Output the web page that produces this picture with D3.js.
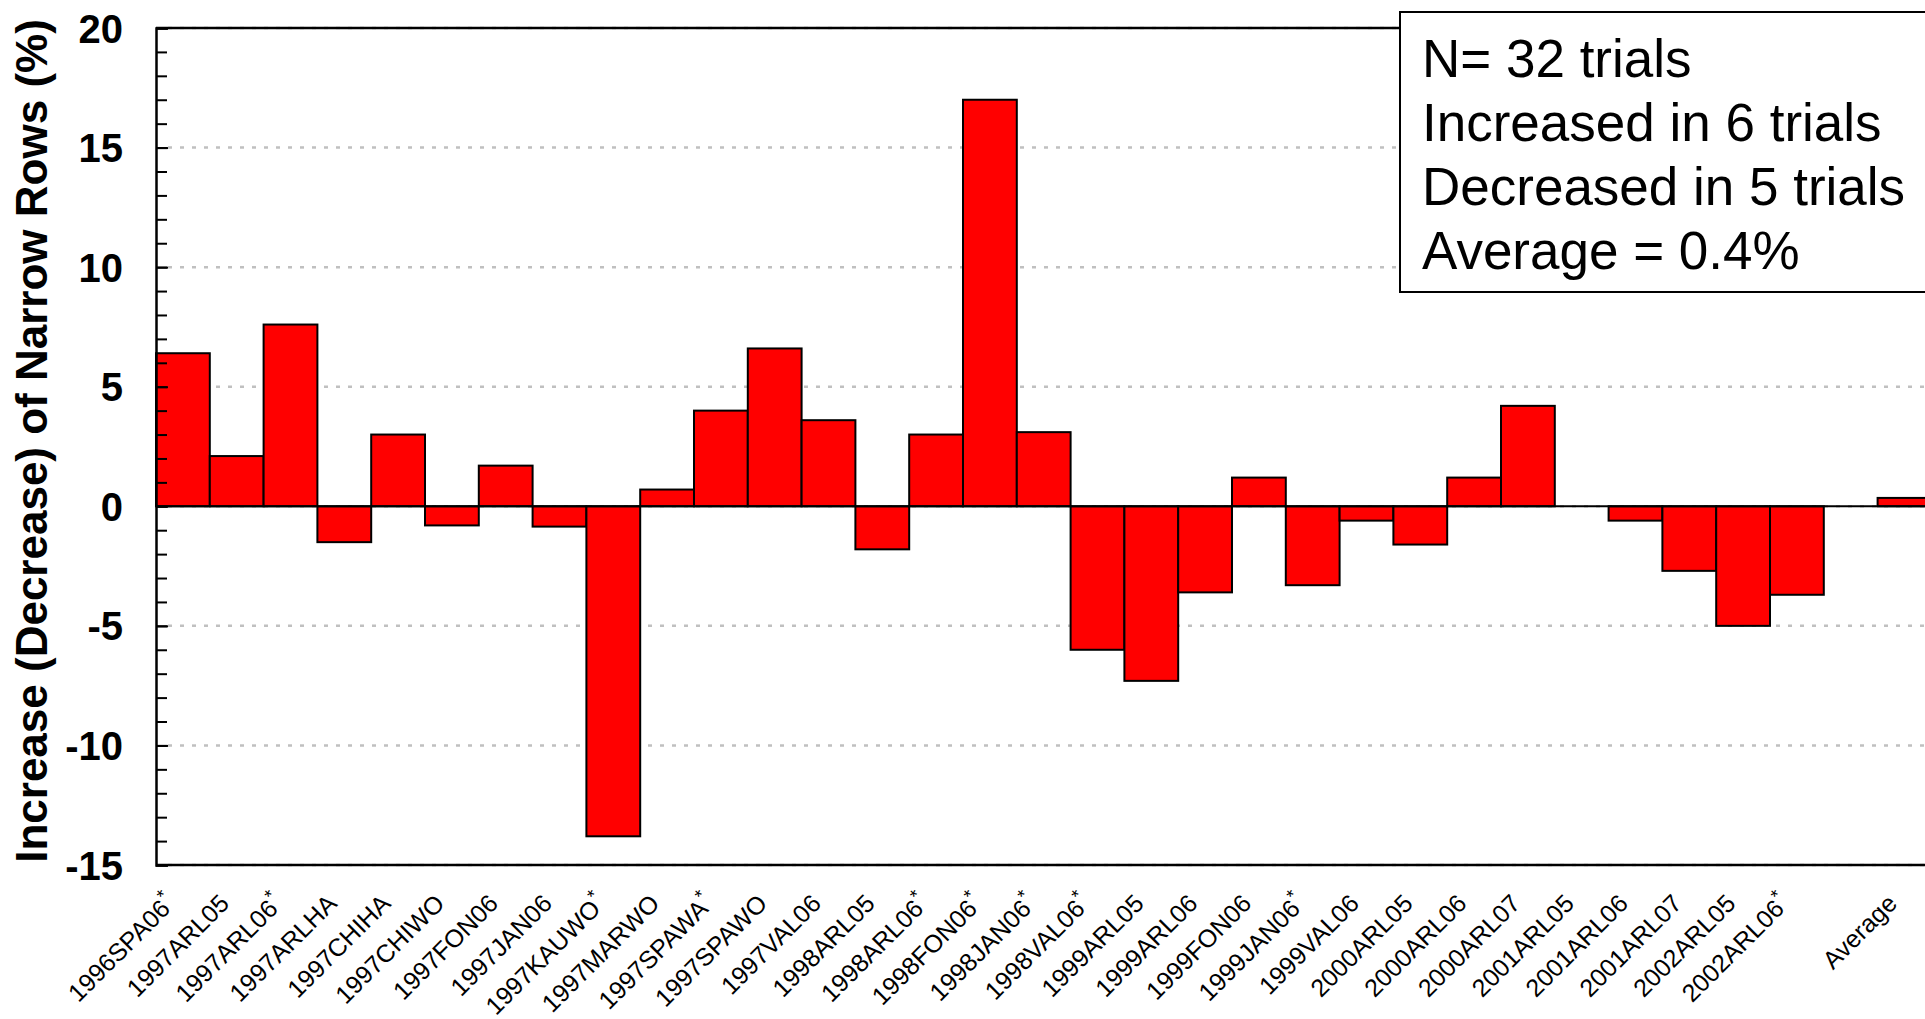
<!DOCTYPE html>
<html>
<head>
<meta charset="utf-8">
<script src="https://cdn.jsdelivr.net/npm/d3@7"></script>
<style>
  html, body { margin: 0; padding: 0; background: #fff; overflow: hidden; }
  svg { display: block; font-family: "Liberation Sans", Arial, sans-serif; }
</style>
</head>
<body>
<svg id="chart" width="1925" height="1019"></svg>
<script>
const categories = ["1996SPA06*", "1997ARL05", "1997ARL06*", "1997ARLHA", "1997CHIHA", "1997CHIWO",
  "1997FON06", "1997JAN06", "1997KAUWO*", "1997MARWO", "1997SPAWA*", "1997SPAWO", "1997VAL06",
  "1998ARL05", "1998ARL06*", "1998FON06*", "1998JAN06*", "1998VAL06*", "1999ARL05", "1999ARL06",
  "1999FON06", "1999JAN06*", "1999VAL06", "2000ARL05", "2000ARL06", "2000ARL07", "2001ARL05",
  "2001ARL06", "2001ARL07", "2002ARL05", "2002ARL06*", "", "Average"];
const values = [6.4, 2.1, 7.6, -1.5, 3.0, -0.8, 1.7, -0.85, -13.8, 0.7, 4.0, 6.6, 3.6,
  -1.8, 3.0, 17.0, 3.1, -6.0, -7.3, -3.6, 1.2, -3.3, -0.6, -1.6, 1.2, 4.2, 0,
  -0.6, -2.7, -5.0, -3.7, null, 0.35];
const yMajorTicks = [-15, -10, -5, 0, 5, 10, 15, 20];
const yMinorTicks = d3.range(-15, 21, 1);
const yTitle = "Increase (Decrease) of Narrow Rows (%)";
const legendLines = ["N= 32 trials", "Increased in 6 trials", "Decreased in 5 trials", "Average = 0.4%"];

(function () {
const svg = d3.select("#chart");
const pL = 156, pT = 28, pB = 865, slot = 53.8;
const pR = pL + slot * categories.length;

const x = d3.scaleBand().domain(categories).range([pL, pR]).padding(0);
const y = d3.scaleLinear().domain([-15, 20]).range([pB, pT]);

// gridlines
svg.append("g").selectAll("line").data(yMajorTicks).join("line")
  .attr("x1", pL + 12).attr("x2", pR)
  .attr("y1", d => y(d)).attr("y2", d => y(d))
  .attr("stroke", "#c0c0c0").attr("stroke-width", 2.5)
  .attr("stroke-dasharray", "4 8");

// bars
const data = categories.map((c, i) => ({ c, v: values[i] }));
svg.append("g").selectAll("rect").data(data.filter(d => d.v != null && d.v !== 0)).join("rect")
  .attr("x", d => x(d.c))
  .attr("width", x.bandwidth())
  .attr("y", d => y(Math.max(0, d.v)))
  .attr("height", d => Math.abs(y(d.v) - y(0)))
  .attr("fill", "#ff0000").attr("stroke", "#000").attr("stroke-width", 2);

// zero line
svg.append("line").attr("x1", pL).attr("x2", pR)
  .attr("y1", y(0)).attr("y2", y(0))
  .attr("stroke", "#000").attr("stroke-width", 2);

// frame: top border and bottom axis line
svg.append("line").attr("x1", pL).attr("x2", pR).attr("y1", pT).attr("y2", pT)
  .attr("stroke", "#000").attr("stroke-width", 2.5);
svg.append("line").attr("x1", pL).attr("x2", pR).attr("y1", pB).attr("y2", pB)
  .attr("stroke", "#000").attr("stroke-width", 2.5);

// minor ticks
const minorAxis = svg.append("g").attr("transform", `translate(${pL},0)`)
  .call(d3.axisLeft(y).tickValues(yMinorTicks).tickSize(-11).tickFormat(""));
minorAxis.select(".domain").remove();
minorAxis.selectAll("line").attr("stroke", "#000").attr("stroke-width", 2);

// major axis with labels
const yAxis = svg.append("g").attr("transform", `translate(${pL},0)`)
  .call(d3.axisLeft(y).tickValues(yMajorTicks).tickSize(-12).tickPadding(33).tickFormat(d3.format("d")));
yAxis.select(".domain").attr("stroke", "#000").attr("stroke-width", 2.5);
yAxis.selectAll("line").attr("stroke", "#000").attr("stroke-width", 2);
yAxis.selectAll("text")
  .text(d => String(d))
  .attr("font-family", "'Liberation Sans', Arial, sans-serif")
  .attr("font-size", 40).attr("font-weight", "bold").attr("fill", "#000")
  .attr("dy", "0.35em");

// x axis labels
const xAxis = svg.append("g").attr("transform", `translate(0,${pB})`)
  .call(d3.axisBottom(x).tickSize(0).tickPadding(0));
xAxis.select(".domain").remove();
xAxis.selectAll("text")
  .attr("font-family", "'Liberation Sans', Arial, sans-serif")
  .attr("font-size", 25).attr("fill", "#000")
  .attr("text-anchor", "end")
  .attr("y", 0).attr("dy", 0)
  .attr("transform", "translate(-6,40) rotate(-45)")
  .each(function(d) {
    if (d.endsWith("*")) {
      const t = d3.select(this);
      t.text(null);
      t.append("tspan").text(d.slice(0, -1));
      t.append("tspan").text("*").attr("font-size", 19).attr("dy", "-0.55em");
    }
  });

// y title
svg.append("text")
  .attr("transform", `translate(47,441) rotate(-90)`)
  .attr("text-anchor", "middle")
  .attr("font-size", 44).attr("font-weight", "bold").attr("fill", "#000")
  .text(yTitle);

// legend box
const lg = svg.append("g");
lg.append("rect").attr("x", 1400).attr("y", 12).attr("width", 600).attr("height", 280)
  .attr("fill", "#fff").attr("stroke", "#000").attr("stroke-width", 2);
lg.selectAll("text").data(legendLines).join("text")
  .attr("x", 1422).attr("y", (d, i) => 77 + i * 64)
  .attr("font-size", 53).attr("fill", "#000")
  .text(d => d);
})();
</script>
</body>
</html>
